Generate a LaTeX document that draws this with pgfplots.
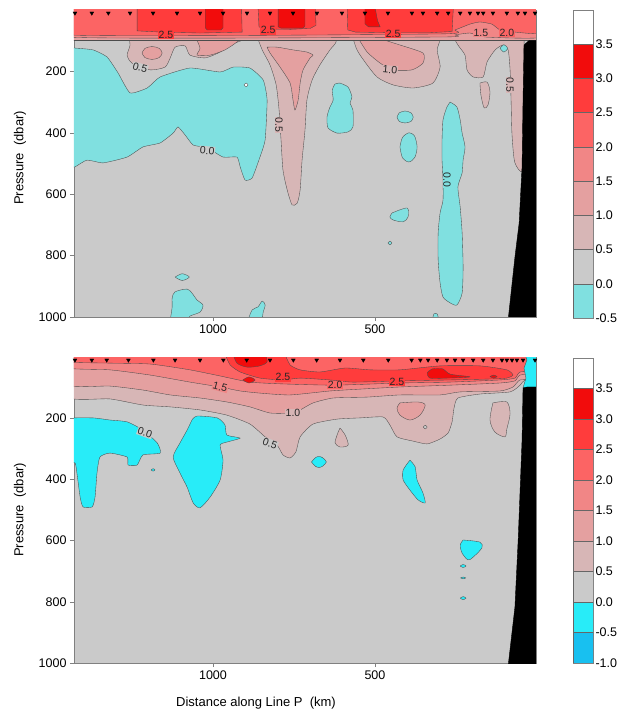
\documentclass[border=0pt]{standalone}
\usepackage{pgfplots}
\pgfplotsset{compat=1.18}
\usepackage{fontspec}
\setmainfont{Liberation Sans}
\definecolor{c00}{RGB}{202,202,202}
\definecolor{c05}{RGB}{215,182,182}
\definecolor{c10}{RGB}{228,160,160}
\definecolor{c15}{RGB}{241,134,134}
\definecolor{c20}{RGB}{252,100,100}
\definecolor{c25}{RGB}{255,60,60}
\definecolor{c30}{RGB}{242,12,12}
\definecolor{cnt}{RGB}{128,224,224}
\definecolor{cnb}{RGB}{40,236,248}
\definecolor{cn2}{RGB}{24,192,240}
\pgfplotsset{
  mainax/.style={scale only axis, width=462pt, height=307pt, anchor=south west,
    xmin=3, xmax=1429, ymin=0, ymax=1000, x dir=reverse, y dir=reverse,
    xtick={500,1000}, ytick={200,400,600,800,1000},
    tick pos=left, tick align=outside, major tick length=4pt,
    every tick/.style={draw=gray, thin},
    axis line style={draw=gray, thin},
    axis background/.style={fill=c00},
    tick label style={font=\fontsize{12.5}{14}\selectfont},
    /pgf/number format/assume math mode=true,
    /pgf/number format/set thousands separator={},
    clip=true, clip marker paths=false},
  cl/.style={draw=black!70, line width=0.35pt},
  cbar/.style={scale only axis, width=20pt, anchor=south west, xmin=0, xmax=1,
    xtick=\empty, ytick distance=0.5, yticklabel pos=right, major tick length=0pt,
    axis line style={draw=gray}, tick label style={font=\fontsize{12.5}{14}\selectfont},
    /pgf/number format/assume math mode=true,
    yticklabel style={/pgf/number format/fixed, /pgf/number format/fixed zerofill, /pgf/number format/precision=1, xshift=-1pt}},
  stn/.style={only marks, mark=triangle*, mark size=2.2pt, mark options={rotate=180, fill=black, draw=black}}
}
\newcommand{\clab}[5]{\node[font=\fontsize{10.5}{12}\selectfont, text=black!85, rotate=#1, inner sep=0.6pt, fill=#5] at (axis cs:#2,#3) {#4};}
\begin{document}
\begin{tikzpicture}[x=1pt,y=1pt]
\path[use as bounding box] (0,0) rectangle (623,715);
% ---------------- top panel ----------------
\begin{axis}[mainax, at={(74pt,398pt)}]
% cyan
\addplot[fill=cnt, cl, smooth, tension=0.3] coordinates {(1450,124)(1426,124)(1370,130)(1327,153)(1293,205)(1256,270)(1203,254)(1163,218)(1071,189)(978,202)(938,186)(886,189)(845,228)(833,293)(839,423)(855,479)(879,547)(901,554)(916,511)(926,479)(969,479)(1018,449)(1061,440)(1086,407)(1108,381)(1123,401)(1163,433)(1216,446)(1265,479)(1339,498)(1389,489)(1426,511)(1450,515)};
\addplot[fill=cnt, cl, smooth, tension=0.4] coordinates {(608,238)(583,251)(571,283)(577,303)(568,326)(568,381)(583,397)(617,401)(645,384)(648,348)(639,316)(629,293)(632,261)(623,241)(608,238)};
\addplot[fill=cnt, cl, smooth] coordinates {(432,349)(425,335)(407,329)(389,335)(382,349)(389,363)(407,368)(425,363)(432,349)};
\addplot[fill=cnt, cl, smooth] coordinates {(423,446)(415,415)(395,400)(378,410)(370,446)(377,480)(395,495)(415,482)(423,446)};
\addplot[fill=cnt, cl, smooth, tension=0.4] coordinates {(268,300)(247,316)(237,358)(231,401)(222,446)(228,489)(231,531)(244,576)(237,642)(231,726)(228,837)(231,922)(247,961)(268,954)(290,935)(299,889)(305,814)(305,726)(299,661)(290,619)(290,554)(293,489)(293,423)(290,358)(278,316)(268,300)};
\addplot[fill=cnt, cl, smooth] coordinates {(447,661)(401,645)(398,674)(413,690)(444,684)(454,674)(447,661)};
\addplot[fill=cnt, cl, smooth] coordinates {(460,759)(454,753)(448,759)(454,765)(460,759)};
\addplot[fill=cnt, cl, smooth] coordinates {(1117,870)(1095,859)(1073,870)(1095,881)(1117,870)};
\addplot[fill=cnt, cl, smooth] coordinates {(1132,1010)(1126,967)(1126,938)(1117,918)(1080,909)(1065,922)(1049,945)(1031,961)(1040,984)(1071,997)(1077,1010)};
\addplot[fill=cnt, cl, smooth] coordinates {(892,1010)(879,977)(861,967)(848,948)(839,961)(845,984)(848,1010)};
\addplot[fill=cnt, cl, smooth] coordinates {(323,1010)(318,990)(308,990)(303,1010)};
\addplot[fill=white, cl, smooth] coordinates {(904,244)(898,238)(892,244)(898,250)(904,244)};
% 0.5-1.0
\addplot[fill=c05, cl, smooth, tension=0.4] coordinates {(1262,70)(1256,114)(1265,147)(1250,173)(1194,195)(1148,186)(1132,156)(1117,121)(1086,117)(1071,147)(1024,156)(978,137)(941,111)(910,98)(898,70)};
\addplot[fill=c05, cl, smooth, tension=0.4] coordinates {(870,70)(848,130)(824,179)(805,244)(796,326)(790,423)(784,521)(771,586)(756,635)(740,629)(731,586)(725,489)(716,391)(710,293)(694,228)(670,179)(639,130)(620,104)(626,70)};
\addplot[fill=c05, cl, smooth, tension=0.4] coordinates {(574,70)(558,124)(540,156)(494,218)(444,244)(382,254)(321,238)(299,186)(308,130)(296,91)(290,70)};
\addplot[fill=c05, cl, smooth, tension=0.4] coordinates {(268,70)(244,114)(222,147)(216,195)(197,218)(166,218)(154,169)(129,130)(105,114)(89,130)(83,195)(80,293)(77,407)(68,498)(40,505)(40,70)};
\addplot[fill=c05, cl, smooth] coordinates {(176,238)(154,235)(145,267)(151,309)(163,319)(173,277)(176,238)};
% 1.0-1.5
\addplot[fill=c10, cl, smooth] coordinates {(1219,140)(1210,125)(1188,119)(1166,125)(1157,140)(1166,155)(1188,161)(1210,155)(1219,140)};
\addplot[fill=c10, cl, smooth, tension=0.4] coordinates {(1055,85)(1040,124)(1049,147)(1009,147)(963,130)(926,104)(916,85)};
\addplot[fill=c10, cl, smooth, tension=0.4] coordinates {(833,121)(824,140)(793,186)(762,238)(753,293)(747,326)(737,293)(731,238)(722,195)(700,156)(691,147)(710,137)(753,130)(802,121)(833,121)};
\addplot[fill=c10, cl, smooth, tension=0.4] coordinates {(552,85)(552,91)(524,137)(484,173)(444,195)(386,195)(352,173)(352,140)(423,114)(469,98)(484,85)};
\addplot[fill=cnt, cl, smooth] coordinates {(114,125)(102,113)(90,125)(102,137)(114,125)};
% surface band
\addplot[fill=c10, cl] coordinates {(1450,-10)(1450,98)(-20,98)(-20,-10)};
\addplot[fill=c15, cl, smooth, tension=0.3] coordinates {(1450,-10)(1450,88)(299,88)(253,81)(207,75)(160,88)(-20,88)(-20,-10)};
\addplot[fill=c20, cl, smooth, tension=0.3] coordinates {(1450,-10)(1450,81)(299,78)(253,65)(207,46)(176,39)(139,46)(114,65)(68,72)(-20,75)(-20,-10)};
\addplot[fill=c25, cl] coordinates {(1234,-10)(1234,68)(1160,72)(1040,75)(910,72)(912,-10)};
\addplot[fill=c25, cl] coordinates {(861,-10)(858,55)(840,62)(760,63)(700,60)(682,50)(684,-10)};
\addplot[fill=c25, cl] coordinates {(586,-10)(584,65)(560,72)(450,74)(330,74)(262,70)(258,-10)};
\addplot[fill=c30, cl] coordinates {(1024,-10)(1024,58)(1018,65)(975,65)(969,58)(969,-10)};
\addplot[fill=c30, cl] coordinates {(799,-10)(799,55)(790,59)(722,59)(716,52)(716,-10)};
\addplot[fill=c30, cl] coordinates {(531,-10)(531,45)(520,55)(484,55)(492,35)(500,-10)};
% bottom topography
\addplot[fill=black, draw=black] coordinates {(40,114)(43,293)(46,511)(55,694)(68,805)(89,1010)(-20,1010)(-20,100)(25,100)(40,114)};
% stations
\addplot[stn] coordinates {(1426,10)(1374,10)(1323,10)(1256,10)(1185,10)(1111,10)(1040,10)(969,10)(895,10)(824,10)(753,10)(679,10)(602,10)(531,10)(460,10)(386,10)(352,10)(308,10)(274,10)(237,10)(207,10)(182,10)(166,10)(136,10)(93,10)(59,10)(37,10)(6,10)};
\clab{0}{1145}{80}{2.5}{c25}
\clab{0}{830}{66}{2.5}{c25}
\clab{0}{444}{78}{2.5}{c25}
\clab{0}{173}{75}{1.5}{c15}
\clab{0}{93}{75}{2.0}{c20}
\clab{-15}{1225}{188}{0.5}{c00}
\clab{-5}{454}{195}{1.0}{c05}
\clab{-90}{796}{375}{0.5}{c05}
\clab{-5}{1018}{458}{0.0}{c00}
\clab{-90}{278}{554}{0.0}{cnt}
\clab{-90}{83}{244}{0.5}{c05}
\end{axis}
% ---------------- bottom panel ----------------
\begin{axis}[mainax, at={(74pt,52pt)}, height=306pt]
\addplot[fill=cnb, cl, smooth, tension=0.35] coordinates {(1450,199)(1370,199)(1318,206)(1265,212)(1216,239)(1172,281)(1163,314)(1216,320)(1234,353)(1262,353)(1265,327)(1318,314)(1349,327)(1358,379)(1364,458)(1373,490)(1401,490)(1410,458)(1420,379)(1426,346)(1450,346)};
\addplot[fill=cnb, cl, smooth, tension=0.4] coordinates {(1065,206)(1049,193)(987,199)(963,222)(957,255)(916,265)(957,278)(978,288)(969,337)(978,402)(1009,458)(1040,493)(1061,477)(1080,425)(1102,379)(1123,327)(1102,281)(1080,239)(1065,206)};
\addplot[fill=cnb, cl, smooth] coordinates {(696,343)(684,329)(673,325)(662,329)(650,343)(662,357)(673,361)(684,357)(696,343)};
\addplot[fill=cnb, cl, smooth, tension=0.4] coordinates {(392,337)(376,359)(370,402)(352,444)(345,477)(367,467)(392,435)(413,402)(413,369)(392,337)};
\addplot[fill=cnb, cl, smooth] coordinates {(228,598)(176,605)(170,624)(197,654)(213,663)(231,641)(237,615)(228,598)};
\addplot[fill=cnb, cl, smooth] coordinates {(237,683)(228,678)(219,683)(228,688)(237,683)};
\addplot[fill=cnb, cl, smooth] coordinates {(236,722)(228,719)(220,722)(228,725)(236,722)};
\addplot[fill=cnb, cl, smooth] coordinates {(237,788)(228,783)(219,788)(228,793)(237,788)};
\addplot[fill=cnb, cl, smooth] coordinates {(1191,369)(1185,365)(1179,369)(1185,373)(1191,369)};
\addplot[fill=c05, cl, smooth] coordinates {(608,232)(592,255)(583,288)(608,294)(623,281)(617,255)(608,232)};
\addplot[fill=c05, cl, smooth] coordinates {(136,150)(93,147)(83,186)(93,235)(99,261)(130,245)(145,206)(136,150)};
% layers
\addplot[fill=c05, cl, smooth, tension=0.35] coordinates {(1450,-10)(1450,131)(1318,137)(1216,157)(1132,163)(1040,173)(957,190)(886,219)(839,261)(802,288)(784,320)(762,330)(744,310)(731,261)(691,219)(617,203)(546,199)(475,196)(454,222)(432,261)(382,275)(339,284)(299,268)(274,248)(262,212)(256,167)(244,134)(176,121)(83,114)(52,92)(37,75)(-10,75)(-10,-10)};
\addplot[fill=c10, cl, smooth, tension=0.35] coordinates {(1450,-10)(1450,92)(1318,95)(1216,108)(1132,124)(1040,134)(957,147)(886,163)(824,183)(762,183)(731,173)(691,150)(629,134)(524,131)(423,124)(299,124)(237,114)(114,111)(74,98)(52,75)(-10,69)(-10,-10)};
\addplot[fill=c15, cl, smooth, tension=0.35] coordinates {(1450,-10)(1450,36)(1318,42)(1194,59)(1071,82)(978,98)(916,111)(855,118)(762,124)(639,111)(546,105)(423,98)(268,92)(114,85)(68,78)(52,59)(-10,49)(-10,-10)};
\addplot[fill=c20, cl, smooth, tension=0.35] coordinates {(1450,-10)(1450,16)(1318,20)(1194,23)(1071,42)(978,62)(886,82)(784,88)(623,92)(423,85)(268,82)(114,75)(68,69)(52,49)(-10,42)(-10,-10)};
\addplot[fill=c25, cl, smooth, tension=0.35] coordinates {(963,-10)(947,26)(916,49)(855,69)(784,75)(731,69)(639,75)(568,82)(423,78)(268,75)(145,72)(93,69)(74,59)(93,42)(176,29)(299,29)(423,42)(515,42)(592,36)(670,49)(731,42)(762,26)(778,-10)};
\addplot[fill=c30, cl, smooth] coordinates {(938,-10)(926,20)(895,33)(855,29)(833,16)(839,-10)};
\addplot[fill=c30, cl, smooth] coordinates {(908,75)(889,65)(870,75)(889,85)(908,75)};
\addplot[fill=c30, cl, smooth] coordinates {(339,52)(324,39)(290,39)(268,56)(207,65)(281,69)(330,69)(339,52)};
\addplot[fill=c30, cl, smooth] coordinates {(145,64)(134,59)(123,64)(134,69)(145,64)};
\addplot[fill=c10, cl, smooth] coordinates {(423,150)(367,147)(345,157)(361,190)(392,206)(423,190)(432,167)(423,150)};
\addplot[fill=c00, cl, smooth] coordinates {(351,229)(345,223)(339,229)(345,235)(351,229)};
% topography and corner
\addplot[fill=cnb, cl] coordinates {(37,-10)(31,10)(40,36)(34,69)(43,101)(-10,114)(-10,-10)};
\addplot[fill=black, draw=black] coordinates {(30,98)(43,101)(46,271)(58,598)(68,817)(89,1010)(-20,1010)(-20,98)(30,98)};
\addplot[stn] coordinates {(1426,10)(1374,10)(1328,10)(1261,10)(1184,10)(1117,10)(1040,10)(968,10)(896,10)(824,10)(752,10)(680,10)(608,10)(536,10)(459,10)(387,10)(360,10)(336,10)(308,10)(278,10)(253,10)(228,10)(197,10)(166,10)(136,10)(108,10)(93,10)(77,10)(62,10)(43,10)(6,10)};
\clab{-15}{978}{98}{1.5}{c15}
\clab{0}{784}{66}{2.5}{c25}
\clab{0}{623}{92}{2.0}{c20}
\clab{0}{432}{82}{2.5}{c25}
\clab{0}{753}{183}{1.0}{c05}
\clab{-20}{824}{283}{0.5}{c00}
\clab{-20}{1210}{247}{0.0}{c00}
\end{axis}
% ---------------- colour bars ----------------
\begin{axis}[cbar, at={(573pt,397pt)}, height=308pt, ymin=-0.5, ymax=4, ytick={-0.5,0,...,3.5}]
\addplot[fill=cnt, draw=black!60] coordinates {(0,-0.5)(1,-0.5)(1,0)(0,0)(0,-0.5)};
\addplot[fill=c00, draw=black!60] coordinates {(0,0)(1,0)(1,0.5)(0,0.5)(0,0)};
\addplot[fill=c05, draw=black!60] coordinates {(0,0.5)(1,0.5)(1,1)(0,1)(0,0.5)};
\addplot[fill=c10, draw=black!60] coordinates {(0,1)(1,1)(1,1.5)(0,1.5)(0,1)};
\addplot[fill=c15, draw=black!60] coordinates {(0,1.5)(1,1.5)(1,2)(0,2)(0,1.5)};
\addplot[fill=c20, draw=black!60] coordinates {(0,2)(1,2)(1,2.5)(0,2.5)(0,2)};
\addplot[fill=c25, draw=black!60] coordinates {(0,2.5)(1,2.5)(1,3)(0,3)(0,2.5)};
\addplot[fill=c30, draw=black!60] coordinates {(0,3)(1,3)(1,3.5)(0,3.5)(0,3)};
\end{axis}
\begin{axis}[cbar, at={(573pt,52pt)}, height=305pt, ymin=-1, ymax=4, ytick={-1,-0.5,0,...,3.5}]
\addplot[fill=cn2, draw=black!60] coordinates {(0,-1)(1,-1)(1,-0.5)(0,-0.5)(0,-1)};
\addplot[fill=cnb, draw=black!60] coordinates {(0,-0.5)(1,-0.5)(1,0)(0,0)(0,-0.5)};
\addplot[fill=c00, draw=black!60] coordinates {(0,0)(1,0)(1,0.5)(0,0.5)(0,0)};
\addplot[fill=c05, draw=black!60] coordinates {(0,0.5)(1,0.5)(1,1)(0,1)(0,0.5)};
\addplot[fill=c10, draw=black!60] coordinates {(0,1)(1,1)(1,1.5)(0,1.5)(0,1)};
\addplot[fill=c15, draw=black!60] coordinates {(0,1.5)(1,1.5)(1,2)(0,2)(0,1.5)};
\addplot[fill=c20, draw=black!60] coordinates {(0,2)(1,2)(1,2.5)(0,2.5)(0,2)};
\addplot[fill=c25, draw=black!60] coordinates {(0,2.5)(1,2.5)(1,3)(0,3)(0,2.5)};
\addplot[fill=c30, draw=black!60] coordinates {(0,3)(1,3)(1,3.5)(0,3.5)(0,3)};
\end{axis}
% ---------------- titles ----------------
\node[rotate=90, font=\fontsize{13}{15}\selectfont] at (20,557) {Pressure\ \ (dbar)};
\node[rotate=90, font=\fontsize{13}{15}\selectfont] at (20,205) {Pressure\ \ (dbar)};
\node[font=\fontsize{13}{15}\selectfont] at (256,12) {Distance along Line P\ \ (km)};
\end{tikzpicture}
\end{document}
